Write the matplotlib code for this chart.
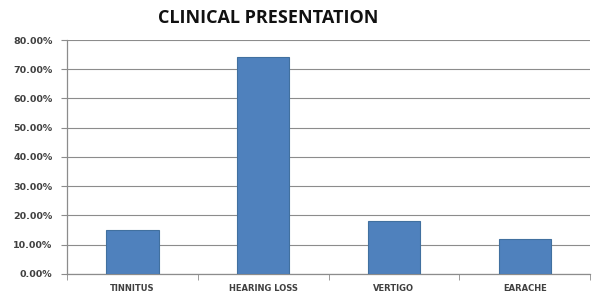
import matplotlib
matplotlib.use("Agg")
import matplotlib.pyplot as plt
from matplotlib.ticker import FuncFormatter, FixedLocator

categories = ["TINNITUS", "HEARING LOSS", "VERTIGO", "EARACHE"]
values = [15.0, 74.2, 18.0, 12.0]
yticks = [0, 10, 20, 30, 40, 50, 60, 70, 80]

fig = plt.figure(figsize=(5.99, 2.92), dpi=100)
ax = fig.add_axes([0.112, 0.062, 0.873, 0.801])

x = list(range(len(categories)))
ax.bar(x, values, width=0.4, color="#4F81BD", edgecolor="#41709F", linewidth=0.8, zorder=3)

ax.set_xlim(-0.5, len(categories) - 0.5)
ax.set_ylim(0, 80)
ax.set_yticks(yticks)
ax.yaxis.set_major_formatter(FuncFormatter(lambda v, p: f"{v:.2f}%"))
ax.grid(axis="y", color="#8C8C8C", linewidth=0.8, zorder=0)

ax.set_xticks(x)
ax.set_xticklabels(categories)
ax.tick_params(axis="x", which="major", length=0, pad=7)
ax.xaxis.set_minor_locator(FixedLocator([i - 0.5 for i in range(len(categories) + 1)]))
ax.tick_params(axis="x", which="minor", length=4, color="#8C8C8C", direction="out")
ax.tick_params(axis="y", length=4, color="#8C8C8C", direction="out", pad=6.5)

for lab in ax.get_xticklabels():
    lab.set_fontsize(6)
    lab.set_fontweight("bold")
    lab.set_color("#404040")
    lab.set_family("DejaVu Sans")
for lab in ax.get_yticklabels():
    lab.set_fontsize(6.8)
    lab.set_fontweight("bold")
    lab.set_color("#404040")
    lab.set_family("DejaVu Sans")

for s in ["top", "right"]:
    ax.spines[s].set_visible(False)
for s in ["left", "bottom"]:
    ax.spines[s].set_color("#8C8C8C")
    ax.spines[s].set_linewidth(0.9)

fig.text(0.447, 0.94, "CLINICAL PRESENTATION", ha="center", va="center",
         fontsize=13, fontweight="bold", family="Open Sans", color="#111111")

fig.savefig("out.png", dpi=100)
